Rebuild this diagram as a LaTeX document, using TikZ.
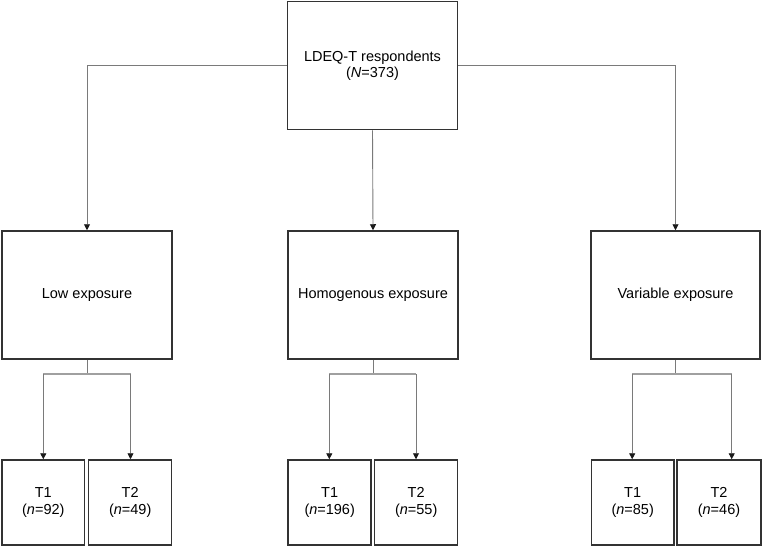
\documentclass[tikz,border=0pt]{standalone}
\usepackage{fontspec}
\setmainfont{Liberation Sans}
\usetikzlibrary{arrows.meta}
\definecolor{boxline}{HTML}{333333}
\definecolor{connline}{HTML}{7A7A7A}
\definecolor{barline}{HTML}{A0A0A0}
\definecolor{tipcol}{HTML}{1A1A1A}
\begin{document}
\begin{tikzpicture}[x=1pt,y=-1pt,
  boxnode/.style={draw=boxline,line width=1.5pt,fill=white,align=center,inner sep=0pt,
    font=\fontsize{14.5}{16.5}\selectfont},
  bigbox/.style={boxnode,minimum width=170pt,minimum height=128pt},
  smallbox/.style={boxnode,minimum width=83pt,minimum height=85pt},
  conn/.style={draw=connline,line width=0.9pt,-{Triangle[length=6pt,width=6pt,color=tipcol]}},
  bar/.style={draw=barline,line width=1.4pt},
  stem/.style={draw=connline,line width=0.9pt}]
\useasboundingbox (0,0) rectangle (762,546);
% main boxes
\node[bigbox] (top) at (372.5,65.5) {LDEQ-T respondents\\(\textit{N}=373)};
\node[bigbox] (low) at (87,295) {Low exposure};
\node[bigbox] (hom) at (373,295) {Homogenous exposure};
\node[bigbox,minimum width=169pt] (var) at (675.5,295) {Variable exposure};
% bottom boxes
\node[smallbox,minimum width=82.5pt] (lT1) at (43.3,502.5) {T1\\(\textit{n}=92)};
\node[smallbox] (lT2) at (130.2,502.5) {T2\\(\textit{n}=49)};
\node[smallbox] (hT1) at (329.7,502.5) {T1\\(\textit{n}=196)};
\node[smallbox] (hT2) at (416.2,502.5) {T2\\(\textit{n}=55)};
\node[smallbox,minimum width=82.5pt] (vT1) at (632.7,502.5) {T1\\(\textit{n}=85)};
\node[smallbox,minimum width=84pt] (vT2) at (719,502.5) {T2\\(\textit{n}=46)};
% top level connectors
\draw[conn] (top.west) -| (low.north);
\draw[conn] (top.east) -| (var.north);
\draw[conn] (top.south) -- (hom.north);
% branch coordinates
\coordinate (lbL) at (43.3,374);
\coordinate (lbR) at (130.5,374);
\coordinate (hbL) at (329.3,374);
\coordinate (hbR) at (416,374);
\coordinate (vbL) at (632.2,374);
\coordinate (vbR) at (731.7,374);
% stems
\draw[stem] (low.south) -- (low.south |- lbL);
\draw[stem] (hom.south) -- (hom.south |- hbL);
\draw[stem] (var.south) -- (var.south |- vbL);
% bars
\draw[bar] (lbL) -- (lbR);
\draw[bar] (hbL) -- (hbR);
\draw[bar] (vbL) -- (vbR);
% arrows to bottom boxes
\draw[conn] (lbL) -- (lbL |- lT1.north);
\draw[conn] (lbR) -- (lbR |- lT2.north);
\draw[conn] (hbL) -- (hbL |- hT1.north);
\draw[conn] (hbR) -- (hbR |- hT2.north);
\draw[conn] (vbL) -- (vbL |- vT1.north);
\draw[conn] (vbR) -- (vbR |- vT2.north);
\end{tikzpicture}
\end{document}
